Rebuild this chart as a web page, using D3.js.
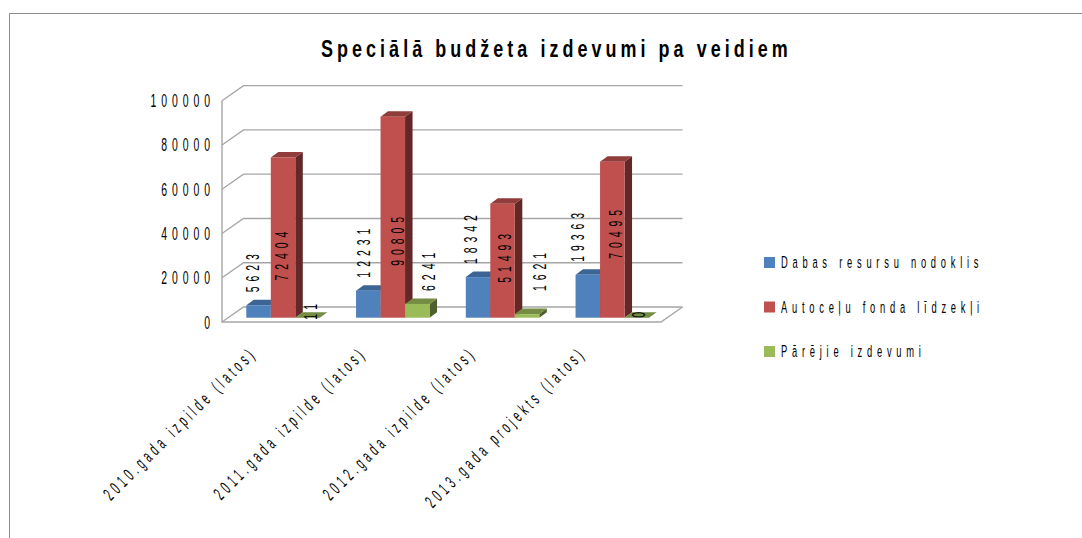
<!DOCTYPE html>
<html>
<head>
<meta charset="utf-8">
<script src="https://cdn.jsdelivr.net/npm/d3@7"></script>
<style>
  html, body { margin: 0; padding: 0; background: #fff; }
  svg { display: block; }
  text { font-family: "Liberation Sans", sans-serif; fill: #000; }
</style>
</head>
<body>
<div id="chart"></div>
<script>
const title = 'Speciālā budžeta izdevumi pa veidiem'
const categories = ['2010.gada izpilde (latos)', '2011.gada izpilde (latos)', '2012.gada izpilde (latos)', '2013.gada projekts (latos)']
const seriesNames = ['Dabas resursu nodoklis', 'Autoceļu fonda līdzekļi', 'Pārējie izdevumi']
const dabas = [5623, 12231, 18342, 19363]
const autoceli = [72404, 90805, 51493, 70495]
const parejie = [11, 6241, 1621, 0]
const yTicks = [0, 20000, 40000, 60000, 80000, 100000]

const seriesValues = [dabas, autoceli, parejie]
const colors = [
  { front: '#4f81bd', top: '#3c6494', side: '#2f4f76' },
  { front: '#c0504d', top: '#8f3c3a', side: '#622827' },
  { front: '#9bbb59', top: '#748c43', side: '#4f5f2d' }
]

const width = 1082, height = 538
const wall = { left: 222, right: 661, bottom: 322, top: 100.7, dx: 21.5, dy: 15 }
const barDepth = { dx: 7.5, dy: 5.5 }
const baseY = 317.7
const barOffset = 24.3

// the labels were nudged by hand in the original, so offsets per series/category
const labelDx = [[0, 2, -1, -4], [5, 11, 8, 10], [9, 18, 19, 8]]
const labelDy = [[-13, -13, -13, -13], [123, 149, 79, 97], [2, -13, -23, 0]]

const svg = d3.select('#chart').append('svg')
  .attr('width', width)
  .attr('height', height)

// narrow glyphs with wide gaps: squeeze horizontally, then space the letters out
function squeezed(str, o) {
  return svg.append('text')
    .attr('transform', `translate(${o.x},${o.y}) rotate(${o.rot || 0}) scale(${o.sx},1)`)
    .attr('text-anchor', o.anchor || 'start')
    .attr('font-size', o.size)
    .attr('font-weight', o.weight || 'normal')
    .attr('letter-spacing', o.spacing)
    .text(str)
}

// frame, open on the right and bottom
svg.append('path')
  .attr('d', `M9.5,${height}V13.5H${width}`)
  .attr('fill', 'none')
  .attr('stroke', '#8c8c8c')

const y = d3.scaleLinear().domain([0, 100000]).range([wall.bottom, wall.top])
const yBar = d3.scaleLinear().domain([0, 100000]).range([baseY, baseY - (wall.bottom - wall.top)])
const x0 = d3.scaleBand().domain(categories).range([wall.left, wall.right])
const x1 = d3.scaleBand().domain(d3.range(3)).range([0, 73.5])

// gridlines on back wall + side wall
svg.append('g').selectAll('path').data(yTicks).join('path')
  .attr('d', d => `M${wall.left},${y(d)}L${wall.left + wall.dx},${y(d) - wall.dy}H${wall.right + wall.dx}`)
  .attr('fill', 'none')
  .attr('stroke', '#a6a6a6')
  .attr('stroke-width', 1.3)

// floor and left edge
svg.append('path')
  .attr('d', `M${wall.left},${y(100000)}V${y(0)}H${wall.right}L${wall.right + wall.dx},${y(0) - wall.dy}`)
  .attr('fill', 'none')
  .attr('stroke', '#a6a6a6')
  .attr('stroke-width', 1.4)

yTicks.forEach(d => {
  squeezed(d, { x: 215, y: y(d) + 6.5, sx: 0.55, size: 19, spacing: 9, anchor: 'end' })
})

// bars: each series is drawn over the side of the one before it
categories.forEach(cat => {
  const g = svg.append('g')
  seriesValues.forEach((vals, si) => {
    const v = vals[categories.indexOf(cat)]
    const x = x0(cat) + barOffset + x1(si)
    const w = x1.bandwidth()
    const top = yBar(v)
    g.append('path')
      .attr('d', `M${x + w},${top}l${barDepth.dx},${-barDepth.dy}V${baseY - barDepth.dy}l${-barDepth.dx},${barDepth.dy}Z`)
      .attr('fill', colors[si].side)
    g.append('path')
      .attr('d', `M${x},${top}l${barDepth.dx},${-barDepth.dy}h${w}l${-barDepth.dx},${barDepth.dy}Z`)
      .attr('fill', colors[si].top)
    g.append('rect')
      .attr('x', x)
      .attr('y', top)
      .attr('width', w)
      .attr('height', baseY - top)
      .attr('fill', colors[si].front)
  })
})

// value labels, rotated
seriesValues.forEach((vals, si) => {
  vals.forEach((v, ci) => {
    const cx = x0(categories[ci]) + barOffset + x1(si) + x1.bandwidth() / 2
    squeezed(v, {
      x: cx + labelDx[si][ci],
      y: yBar(v) + labelDy[si][ci],
      rot: -90,
      sx: 0.55,
      size: 19,
      spacing: 9
    })
  })
})

// category labels
categories.forEach(cat => {
  squeezed(cat, { x: x0(cat) + 36, y: 354, rot: -45, sx: 0.55, size: 18, spacing: 7.3, anchor: 'end' })
})

// legend
const legendY = d3.scalePoint().domain(seriesNames).range([261.5, 350.5])
seriesNames.forEach((name, i) => {
  svg.append('rect')
    .attr('x', 764)
    .attr('y', legendY(name) - 4.5)
    .attr('width', 11)
    .attr('height', 11)
    .attr('fill', colors[i].front)
  squeezed(name, { x: 781, y: legendY(name) + 6.5, sx: 0.55, size: 17, spacing: 8.65 })
})

// title
squeezed(title, { x: 321, y: 57, sx: 0.78, size: 23, spacing: 5.2, weight: 'bold' })
</script>
</body>
</html>
